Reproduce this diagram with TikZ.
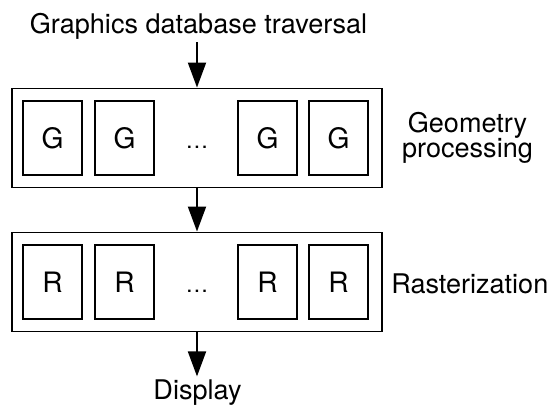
\documentclass[tikz,border=0pt]{standalone}
\usepackage{fontspec}
\setmainfont{TeX Gyre Heros}
\usepackage{tikz}
\usetikzlibrary{arrows.meta}

\begin{document}
\begin{tikzpicture}[
        every node/.style={font=\fontsize{15.4}{14.4}\selectfont},
        stage/.style={draw, line width=1.1pt, minimum width=7.4cm, minimum height=1.98cm, inner sep=0pt},
        unit/.style={draw, line width=0.85pt, minimum width=1.18cm, minimum height=1.48cm, inner sep=0pt,
            font=\fontsize{16}{18}\selectfont, text height=11.5pt, text depth=0pt},
        gap/.style={unit, draw=none, font=\fontsize{13}{16}\selectfont},
        flow/.style={line width=1.1pt, -{Triangle[length=0.5cm, width=0.36cm]}}
    ]
        %--- Arguments ----
        \def \mx {3.94} % centre of both stages
        \def \gy {5.38} % centre of geometry stage
        \def \ry {2.50} % centre of rasterization stage
        \useasboundingbox (0,0) rectangle (11.1,8.14);
        %--- Stages ---
        \node [stage] (geo) at (\mx,\gy) {};
        \node [stage] (ras) at (\mx,\ry) {};
        %--- Units ---
        % geometry
        \node [unit] (g1) at (1.05,\gy) {G};
        \node [unit] (g2) at (2.49,\gy) {G};
        \node [gap] (gdots) at (\mx,\gy) {\ldots};
        \node [unit] (g3) at (5.35,\gy) {G};
        \node [unit] (g4) at (6.77,\gy) {G};
        % rasterization
        \node [unit] (r1) at (1.05,\ry) {R};
        \node [unit] (r2) at (2.49,\ry) {R};
        \node [gap] (rdots) at (\mx,\ry) {\ldots};
        \node [unit] (r3) at (5.35,\ry) {R};
        \node [unit] (r4) at (6.77,\ry) {R};
        %--- Outer labels ---
        \node [anchor=base, inner sep=1pt] (trav) at (3.97,7.46) {Graphics database traversal};
        \node [anchor=base, inner sep=2pt] (disp) at (3.95,0.14) {Display};
        \node [align=center] (geolbl) at (9.35,5.38) {Geometry\\processing};
        \node [anchor=west, inner sep=0pt] (raslbl) at (7.82,2.47) {Rasterization};
        %--- Arrows ---
        \draw [flow] (geo.north |- trav.south) -- (geo.north);
        \draw [flow] (geo.south) -- (ras.north);
        \draw [flow] (ras.south) -- (ras.south |- disp.north);
\end{tikzpicture}
\end{document}
